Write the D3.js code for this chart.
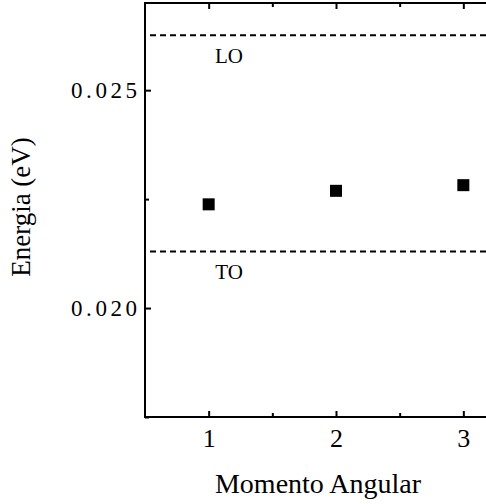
<!DOCTYPE html>
<html>
<head>
<meta charset="utf-8">
<script src="https://cdn.jsdelivr.net/npm/d3@7"></script>
</head>
<body style="margin:0; background:#fff">
<div id="chart"></div>
<script>
// data
var momento = [1, 2, 3];
var energia = [0.02238, 0.02269, 0.02282];
var linhas = [
  { nome: "LO", valor: 0.02626 },
  { nome: "TO", valor: 0.02130 }
];
var yTicks = [0.020, 0.025];
var yMinor = [0.0175, 0.0225, 0.0275];
var xTicks = [1, 2, 3];
var xMinor = [1.5, 2.5];

var FONT = "Liberation Serif";
var W = 486, H = 504;
var margin = { top: 3, right: -41, bottom: 87, left: 145 },
  width = W - margin.left - margin.right,
  height = H - margin.top - margin.bottom;

var svg = d3.select("#chart")
  .append("svg")
  .attr("width", W)
  .attr("height", H)
  .append("g")
  .attr("transform", "translate(" + margin.left + "," + margin.top + ")");

var x = d3.scaleLinear()
  .domain([0.5, 3.5])
  .range([0, width]);

var y = d3.scaleLinear()
  .domain([0.0175, 0.027])
  .range([height, 0]);

// frame
svg.append("rect")
  .attr("x", 0).attr("y", 0)
  .attr("width", width).attr("height", height)
  .attr("fill", "none")
  .attr("stroke", "#000")
  .attr("stroke-width", 2);

function ticksOnly(g) {
  g.attr("font-family", null);
  g.select(".domain").remove();
  g.selectAll("line").attr("stroke-width", 2);
}

// bottom axis
var xAxis = svg.append("g")
  .attr("transform", "translate(0," + height + ")")
  .call(d3.axisBottom(x).tickValues(xTicks).tickSize(-6).tickPadding(12).tickFormat(d3.format("d")));
ticksOnly(xAxis);
xAxis.selectAll("text").attr("font-size", 26);

svg.append("g")
  .attr("transform", "translate(0," + height + ")")
  .call(d3.axisBottom(x).tickValues(xMinor).tickSize(-4).tickFormat(""))
  .call(ticksOnly);

// top axis ticks
svg.append("g")
  .call(d3.axisTop(x).tickValues(xTicks).tickSize(-6).tickFormat(""))
  .call(ticksOnly);
svg.append("g")
  .call(d3.axisTop(x).tickValues(xMinor).tickSize(-4).tickFormat(""))
  .call(ticksOnly);

// left axis
var yAxis = svg.append("g")
  .call(d3.axisLeft(y).tickValues(yTicks).tickSize(-6).tickPadding(8).tickFormat(d3.format(".3f")));
ticksOnly(yAxis);
yAxis.selectAll("text")
  .attr("font-size", 23)
  .attr("textLength", 66)
  .attr("lengthAdjust", "spacing");

svg.append("g")
  .call(d3.axisLeft(y).tickValues(yMinor).tickSize(-4).tickFormat(""))
  .call(ticksOnly);

// dashed reference lines
svg.append("g")
  .selectAll("line")
  .data(linhas)
  .enter()
  .append("line")
  .attr("x1", 5)
  .attr("x2", width)
  .attr("y1", function (d) { return y(d.valor); })
  .attr("y2", function (d) { return y(d.valor); })
  .attr("stroke", "#000")
  .attr("stroke-width", 2)
  .attr("stroke-dasharray", "6,4");

svg.append("g")
  .selectAll("text")
  .data(linhas)
  .enter()
  .append("text")
  .attr("x", x(1.16))
  .attr("y", function (d) { return y(d.valor) + 28; })
  .attr("text-anchor", "middle")
  .attr("font-size", 21)
  .text(function (d) { return d.nome; });

// points
var s = 12;
svg.append("g")
  .selectAll("rect")
  .data(momento)
  .enter()
  .append("rect")
  .attr("x", function (d) { return x(d) - s / 2; })
  .attr("y", function (d, i) { return y(energia[i]) - s / 2; })
  .attr("width", s)
  .attr("height", s)
  .attr("fill", "#000");

// axis titles
svg.append("text")
  .attr("x", 318 - margin.left)
  .attr("y", height + 76)
  .attr("text-anchor", "middle")
  .attr("font-size", 28)
  .text("Momento Angular");

svg.append("text")
  .attr("transform", "translate(" + (30 - margin.left) + "," + (207 - margin.top) + ") rotate(-90)")
  .attr("text-anchor", "middle")
  .attr("font-size", 27)
  .text("Energia (eV)");

// serif font on every text element
d3.selectAll("text").attr("font-family", FONT).attr("fill", "#000");
</script>
</body>
</html>
